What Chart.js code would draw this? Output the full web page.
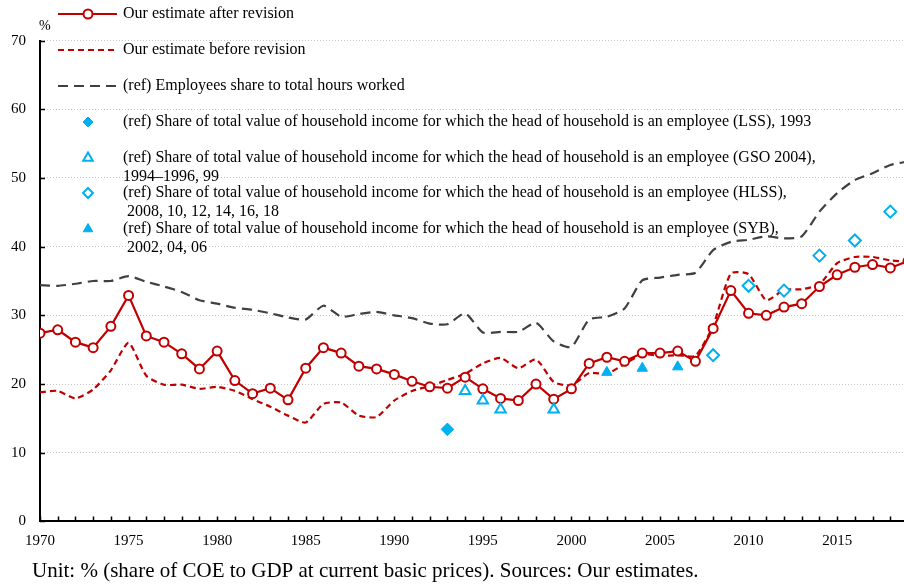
<!DOCTYPE html>
<html>
<head>
<meta charset="utf-8">
<script src="https://cdn.jsdelivr.net/npm/chart.js@4.4.1/dist/chart.umd.min.js"></script>
<style>
  html, body { margin: 0; padding: 0; background: #fff; overflow: hidden; }
  #wrap { width: 919px; height: 585px; }
</style>
</head>
<body>
<div id="wrap"><canvas id="c" width="919" height="585"></canvas></div>
<script>
// ---- data -------------------------------------------------------------
const years = [1970, 1971, 1972, 1973, 1974, 1975, 1976, 1977, 1978, 1979,
               1980, 1981, 1982, 1983, 1984, 1985, 1986, 1987, 1988, 1989,
               1990, 1991, 1992, 1993, 1994, 1995, 1996, 1997, 1998, 1999,
               2000, 2001, 2002, 2003, 2004, 2005, 2006, 2007, 2008, 2009,
               2010, 2011, 2012, 2013, 2014, 2015, 2016, 2017, 2018, 2019];

const afterRevision = [27.4, 27.9, 26.1, 25.3, 28.4, 32.9, 27.0, 26.1, 24.4, 22.2,
                       24.8, 20.5, 18.6, 19.4, 17.7, 22.3, 25.3, 24.5, 22.6, 22.2,
                       21.4, 20.4, 19.6, 19.4, 21.0, 19.3, 17.9, 17.6, 20.0, 17.8,
                       19.3, 23.0, 23.9, 23.3, 24.5, 24.5, 24.8, 23.3, 28.1, 33.6,
                       30.3, 30.0, 31.2, 31.7, 34.2, 35.9, 37.0, 37.4, 36.9, 37.9];

const beforeRevision = [18.8, 19.0, 17.9, 19.2, 22.0, 26.0, 21.2, 19.9, 19.9, 19.3,
                        19.6, 19.0, 17.8, 16.7, 15.4, 14.4, 17.1, 17.3, 15.4, 15.2,
                        17.6, 19.0, 19.7, 20.6, 21.5, 23.0, 23.8, 22.3, 23.6, 20.3,
                        19.8, 21.6, 21.5, 22.9, 24.3, 24.1, 24.2, 24.1, 28.5, 36.1,
                        36.0, 32.2, 33.7, 33.8, 34.5, 37.6, 38.5, 38.5, 38.0, 37.8];

const employeesShare = [34.4, 34.3, 34.6, 35.0, 35.0, 35.7, 34.9, 34.2, 33.4, 32.2,
                        31.7, 31.1, 30.8, 30.3, 29.7, 29.4, 31.4, 29.8, 30.2, 30.5,
                        30.0, 29.6, 28.8, 28.7, 30.3, 27.5, 27.6, 27.6, 28.9, 26.2,
                        25.4, 29.4, 29.8, 31.0, 35.1, 35.5, 35.9, 36.2, 39.5, 40.7,
                        41.0, 41.5, 41.2, 41.5, 45.1, 47.8, 49.7, 50.7, 51.9, 52.4];

const lssYears = [1993];
const lssValues = [13.4];
const gsoYears = [1994, 1995, 1996, 1999];
const gsoValues = [19.0, 17.6, 16.3, 16.3];
const hlssYears = [2008, 2010, 2012, 2014, 2016, 2018];
const hlssValues = [24.2, 34.3, 33.6, 38.7, 40.9, 45.1];
const sybYears = [2002, 2004, 2006];
const sybValues = [21.7, 22.3, 22.5];

const yTickValues = [0, 10, 20, 30, 40, 50, 60, 70];
const xLabelYears = [1970, 1975, 1980, 1985, 1990, 1995, 2000, 2005, 2010, 2015];

const legendTexts = [
  ['Our estimate after revision'],
  ['Our estimate before revision'],
  ['(ref) Employees share to total hours worked'],
  ['(ref) Share of total value of household income for which the head of household is an employee (LSS), 1993'],
  ['(ref) Share of total value of household income for which the head of household is an employee (GSO 2004),', '1994\u20131996, 99'],
  ['(ref) Share of total value of household income for which the head of household is an employee (HLSS),', ' 2008, 10, 12, 14, 16, 18'],
  ['(ref) Share of total value of household income for which the head of household is an employee (SYB),', ' 2002, 04, 06']
];
const footerText = 'Unit: % (share of COE to GDP at current basic prices). Sources: Our estimates.';
const unitText = '%';

// ---- styling ----------------------------------------------------------
const SERIF = "'Liberation Serif', 'Times New Roman', serif";
const RED = '#C00000';
const GREY = '#404040';
const BLUE = '#00B0F0';

const pts = (xs, ys) => xs.map((x, i) => ({ x: x, y: ys[i] }));

const datasets = [
  { label: legendTexts[0][0], data: pts(years, afterRevision), borderColor: RED, borderWidth: 2.2,
    pointStyle: 'circle', pointRadius: 4.5, pointBackgroundColor: '#fff', pointBorderColor: RED,
    pointBorderWidth: 2, tension: 0, order: 1, legendRadius: 4.5 },
  { label: legendTexts[1][0], data: pts(years, beforeRevision), borderColor: RED, borderWidth: 2.2,
    borderDash: [6, 4], pointRadius: 0, tension: 0.2, order: 3 },
  { label: legendTexts[2][0], data: pts(years, employeesShare), borderColor: GREY, borderWidth: 2.2,
    borderDash: [10, 6], pointRadius: 0, tension: 0.2, order: 4 },
  { label: legendTexts[3][0], data: pts(lssYears, lssValues), showLine: false, pointStyle: 'rectRot',
    pointRadius: 6.3, pointBackgroundColor: BLUE, pointBorderColor: BLUE, pointBorderWidth: 1, order: 0, legendRadius: 5 },
  { label: legendTexts[4][0], data: pts(gsoYears, gsoValues), showLine: false, pointStyle: 'triangle',
    pointRadius: 6, pointBackgroundColor: '#fff', pointBorderColor: BLUE, pointBorderWidth: 2, order: 0, legendRadius: 5.5 },
  { label: legendTexts[5][0], data: pts(hlssYears, hlssValues), showLine: false, pointStyle: 'rectRot',
    pointRadius: 6, pointBackgroundColor: '#fff', pointBorderColor: BLUE, pointBorderWidth: 2, order: 0, legendRadius: 5 },
  { label: legendTexts[6][0], data: pts(sybYears, sybValues), showLine: false, pointStyle: 'triangle',
    pointRadius: 6, pointBackgroundColor: BLUE, pointBorderColor: BLUE, pointBorderWidth: 1, order: 0, legendRadius: 5.5 }
];

// Inward tick marks on both axes
const innerTicks = {
  id: 'innerTicks',
  afterDatasetsDraw(chart) {
    const { ctx, chartArea, scales: { x, y } } = chart;
    ctx.save();
    ctx.strokeStyle = '#000';
    ctx.lineWidth = 1.5;
    ctx.beginPath();
    years.forEach(yr => {
      const px = Math.round(x.getPixelForValue(yr)) + 0.5;
      ctx.moveTo(px, chartArea.bottom);
      ctx.lineTo(px, chartArea.bottom - 5);
    });
    yTickValues.forEach(v => {
      const py = Math.round(y.getPixelForValue(v)) + 0.5;
      ctx.moveTo(chartArea.left, py);
      ctx.lineTo(chartArea.left + 5, py);
    });
    ctx.stroke();
    ctx.restore();
  }
};

// Legend block inside the plot, unit label and source note
const rowY = [[14], [50], [86], [122], [158, 177], [193, 212], [229, 248]];
const notes = {
  id: 'notes',
  afterDraw(chart) {
    const ctx = chart.ctx;
    ctx.save();
    chart.data.datasets.forEach((ds, i) => {
      const y = rowY[i][0];
      if (ds.showLine !== false) {
        ctx.save();
        ctx.strokeStyle = ds.borderColor;
        ctx.lineWidth = ds.borderWidth;
        ctx.setLineDash(ds.borderDash || []);
        ctx.beginPath();
        ctx.moveTo(58, y);
        ctx.lineTo(117, y);
        ctx.stroke();
        ctx.restore();
      }
      if (ds.pointRadius > 0) {
        ctx.save();
        ctx.fillStyle = ds.pointBackgroundColor;
        ctx.strokeStyle = ds.pointBorderColor;
        ctx.lineWidth = ds.pointBorderWidth;
        Chart.helpers.drawPoint(ctx, { pointStyle: ds.pointStyle, radius: ds.legendRadius, rotation: 0,
          borderWidth: ds.pointBorderWidth }, 88, y);
        ctx.restore();
      }
      ctx.fillStyle = '#000';
      ctx.font = '16px ' + SERIF;
      ctx.textBaseline = 'middle';
      ctx.textAlign = 'left';
      legendTexts[i].forEach((t, k) => ctx.fillText(t, 123, rowY[i][k]));
    });
    ctx.font = '14px ' + SERIF;
    ctx.textBaseline = 'alphabetic';
    ctx.fillText(unitText, 39, 30);
    ctx.font = '21px ' + SERIF;
    ctx.fillText(footerText, 32, 577);
    ctx.restore();
  }
};

new Chart(document.getElementById('c'), {
  type: 'line',
  data: { datasets: datasets },
  options: {
    responsive: false,
    animation: false,
    events: [],
    devicePixelRatio: 1,
    layout: { padding: { top: 40.6, right: 5, left: 0, bottom: 0 } },
    plugins: { legend: { display: false }, tooltip: { enabled: false } },
    elements: { line: { fill: false } },
    scales: {
      x: {
        type: 'linear', min: 1970, max: 2019,
        grid: { display: false, drawTicks: false },
        border: { display: true, color: '#000', width: 2 },
        ticks: {
          stepSize: 1, autoSkip: false, maxRotation: 0, padding: 11,
          color: '#000', font: { family: SERIF, size: 15 },
          callback: v => xLabelYears.includes(v) ? String(v) : ''
        },
        afterFit: s => { s.height = 63.6; }
      },
      y: {
        type: 'linear', min: 0, max: 70,
        grid: {
          drawTicks: false, lineWidth: 1,
          color: c => (c.tick && c.tick.value === 0) ? 'rgba(0,0,0,0)' : '#c4c4c4'
        },
        border: { display: true, color: '#000', width: 2, dash: [1, 2] },
        ticks: {
          stepSize: 10, padding: 14, color: '#000', font: { family: SERIF, size: 15 }
        },
        afterFit: s => { s.width = 40; }
      }
    }
  },
  plugins: [innerTicks, notes]
});
</script>
</body>
</html>
